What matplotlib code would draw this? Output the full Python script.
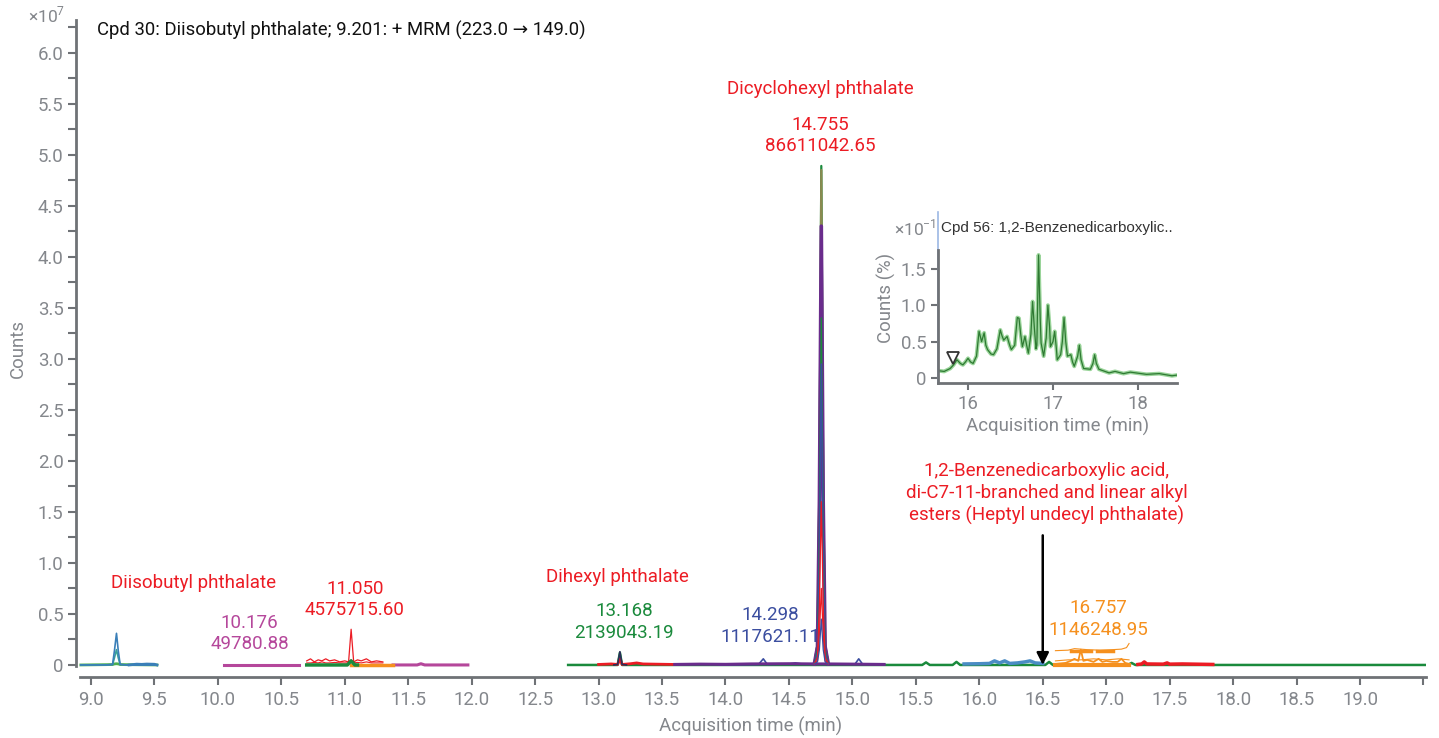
import matplotlib
matplotlib.use("Agg")
import matplotlib.pyplot as plt
from matplotlib.ticker import MultipleLocator, FixedLocator

plt.rcParams['font.family'] = ['Roboto', 'DejaVu Sans']
plt.rcParams['mathtext.fontset'] = 'custom'
plt.rcParams['mathtext.rm'] = 'Roboto'

# ---------------- data (counts in units of 1e7) ----------------
# Diisobutyl phthalate window
dib_t = [8.92, 9.12, 9.17, 9.185, 9.201, 9.215, 9.23, 9.28, 9.52]
dib_blue = [0.0, 0.0, 0.005, 0.14, 0.31, 0.14, 0.005, 0.0, 0.0]
dib_teal = [0.0, 0.0, 0.004, 0.07, 0.15, 0.07, 0.004, 0.0, 0.0]
dib_green = [0.0, 0.003, 0.004, 0.01, 0.012, 0.01, 0.004, 0.003, 0.0]
dib2_t = [9.30, 9.36, 9.40, 9.44, 9.50, 9.52]
dib2_v = [0.0, 0.008, 0.006, 0.009, 0.007, 0.0]

# 10.176 window
mag_t = [10.05, 10.30, 10.64]
mag_v = [0.0, 0.0, 0.0]

# 11.050 window
red11_t = [10.70, 10.73, 10.76, 10.79, 10.82, 10.85, 10.88, 10.92, 10.96, 11.00,
           11.03, 11.05, 11.07, 11.10, 11.13, 11.17, 11.21, 11.25, 11.30]
red11_v = [0.04, 0.06, 0.03, 0.05, 0.04, 0.06, 0.04, 0.05, 0.03, 0.04,
           0.03, 0.35, 0.03, 0.05, 0.04, 0.06, 0.03, 0.04, 0.03]
red11b_v = [0.02, 0.02, 0.025, 0.02, 0.03, 0.02, 0.02, 0.025, 0.02, 0.02,
            0.02, 0.05, 0.02, 0.025, 0.02, 0.03, 0.02, 0.02, 0.02]
green11_t = [10.70, 11.02, 11.05, 11.08, 11.10]
green11_v = [0.0, 0.0, 0.04, 0.0, 0.0]
orange11_t = [11.05, 11.38]
orange11_v = [0.0, 0.0]
mag11_t = [11.38, 11.57, 11.60, 11.63, 11.97]
mag11_v = [0.0, 0.0, 0.012, 0.0, 0.0]

# long baseline 12.76 - end
green_t = [12.76, 13.15, 13.168, 13.185, 15.55, 15.58, 15.61, 15.79, 15.82, 15.85,
           16.52, 16.55, 16.58, 17.17, 17.20, 17.23, 19.52]
green_v = [0.0, 0.0, 0.12, 0.0, 0.0, 0.025, 0.0, 0.0, 0.03, 0.0,
           0.0, 0.03, 0.0, 0.0, 0.02, 0.0, 0.0]
red13_t = [13.0, 13.10, 13.15, 13.168, 13.185, 13.25, 13.30, 13.35, 13.45, 13.60]
red13_v = [0.005, 0.01, 0.005, 0.06, 0.005, 0.012, 0.02, 0.01, 0.008, 0.005]
navy13_t = [13.12, 13.15, 13.168, 13.185, 13.22]
navy13_v = [0.0, 0.005, 0.13, 0.005, 0.0]

purple_t = [13.60, 13.80, 14.00, 14.20, 14.50, 14.70, 14.80, 15.00, 15.25]
purple_v = [0.005, 0.008, 0.006, 0.01, 0.012, 0.01, 0.01, 0.008, 0.005]
blue14_t = [13.95, 14.26, 14.298, 14.33, 14.50, 14.55, 14.60, 15.02, 15.05, 15.08, 15.25]
blue14_v = [0.0, 0.005, 0.06, 0.005, 0.01, 0.02, 0.01, 0.008, 0.06, 0.008, 0.008]

# Dicyclohexyl phthalate main peak (several transitions)
big_t = [14.70, 14.725, 14.74, 14.755, 14.77, 14.785, 14.81]
big_green = [0.01, 0.20, 1.80, 4.89, 1.80, 0.20, 0.01]
big_olive = [0.01, 0.20, 1.70, 4.85, 1.70, 0.20, 0.01]
big_purple = [0.01, 0.18, 1.60, 4.30, 1.60, 0.18, 0.01]
big_green2 = [0.01, 0.15, 1.30, 3.40, 1.30, 0.15, 0.01]
big_blue = [0.01, 0.12, 1.10, 2.95, 1.10, 0.12, 0.01]
big_red = [0.01, 0.08, 0.60, 1.60, 0.60, 0.08, 0.01]
big_red2 = [0.01, 0.04, 0.30, 0.75, 0.30, 0.04, 0.01]
big_navy = [0.01, 0.03, 0.15, 0.45, 0.15, 0.03, 0.01]

# 15.9 - 16.5 steel blue
steel_t = [15.88, 16.00, 16.08, 16.12, 16.16, 16.20, 16.24, 16.30, 16.36, 16.40, 16.44, 16.50]
steel_v = [0.01, 0.012, 0.015, 0.04, 0.02, 0.04, 0.015, 0.02, 0.03, 0.04, 0.02, 0.015]

# heptyl undecyl phthalate (orange)
orb_t = [16.60, 16.75, 16.90, 17.05, 17.18]
orb_v = [0.0, 0.0, 0.0, 0.0, 0.0]
orp_t = [16.60, 16.68, 16.72, 16.75, 16.78, 16.80, 16.82, 16.85, 16.90, 16.94,
         16.97, 17.00, 17.05, 17.09, 17.12, 17.15, 17.18]
orp_v = [0.01, 0.02, 0.04, 0.06, 0.04, 0.15, 0.04, 0.05, 0.03, 0.06,
         0.03, 0.04, 0.03, 0.03, 0.06, 0.02, 0.01]
orm_t = [16.60, 16.70, 16.80, 16.90, 17.00, 17.10, 17.18]
orm_v = [0.04, 0.05, 0.05, 0.06, 0.05, 0.06, 0.05]
ort_t = [16.60, 16.70, 16.75, 16.85, 16.95, 17.05, 17.12, 17.16, 17.18]
ort_v = [0.14, 0.145, 0.16, 0.15, 0.145, 0.15, 0.155, 0.17, 0.21]
ord1_t = [16.72, 16.88]
ord2_t = [16.93, 17.05]
ord_v = [0.14, 0.14]

# red 17.25 - 17.84
red17_t = [17.25, 17.28, 17.30, 17.32, 17.45, 17.48, 17.50, 17.60, 17.84]
red17_v = [0.005, 0.01, 0.03, 0.01, 0.008, 0.02, 0.008, 0.01, 0.005]

# inset (Counts %, x10^-1)
ins_t = [15.65, 15.72, 15.79, 15.83, 15.87, 15.91, 15.94, 15.97, 16.00, 16.03, 16.06,
         16.10, 16.13, 16.16, 16.19, 16.21, 16.23, 16.27, 16.30, 16.34, 16.38, 16.40,
         16.42, 16.46, 16.49, 16.51, 16.55, 16.58, 16.60, 16.62, 16.64, 16.67, 16.69,
         16.71, 16.74, 16.76, 16.78, 16.80, 16.81, 16.83, 16.85, 16.86, 16.89, 16.92,
         16.94, 16.96, 16.97, 17.00, 17.02, 17.04, 17.05, 17.09, 17.11, 17.13, 17.15,
         17.17, 17.21, 17.23, 17.25, 17.29, 17.31, 17.33, 17.36, 17.44, 17.47, 17.49,
         17.51, 17.54, 17.66, 17.73, 17.83, 17.91, 18.10, 18.25, 18.40, 18.46]
ins_v = [0.10, 0.09, 0.13, 0.18, 0.25, 0.20, 0.18, 0.22, 0.27, 0.22, 0.20,
         0.30, 0.64, 0.50, 0.62, 0.45, 0.39, 0.33, 0.32, 0.40, 0.66, 0.58,
         0.52, 0.57, 0.45, 0.39, 0.45, 0.83, 0.82, 0.60, 0.43, 0.57, 0.45,
         0.34, 0.60, 1.05, 0.70, 0.40, 0.45, 1.69, 0.80, 0.48, 0.30, 0.55,
         1.00, 0.70, 0.43, 0.50, 0.64, 0.40, 0.25, 0.32, 0.50, 0.83, 0.50,
         0.30, 0.32, 0.22, 0.16, 0.30, 0.45, 0.25, 0.13, 0.12, 0.20, 0.32,
         0.20, 0.12, 0.07, 0.09, 0.06, 0.08, 0.05, 0.06, 0.03, 0.04]
ins_marker_t = [15.82]
ins_marker_v = [0.27]

x_ticks = [9.0, 9.5, 10.0, 10.5, 11.0, 11.5, 12.0, 12.5, 13.0, 13.5, 14.0, 14.5,
           15.0, 15.5, 16.0, 16.5, 17.0, 17.5, 18.0, 18.5, 19.0]
y_ticks = [0, 0.5, 1.0, 1.5, 2.0, 2.5, 3.0, 3.5, 4.0, 4.5, 5.0, 5.5, 6.0]

# ---------------- colors ----------------
RED = '#ec1c24'
MAG = '#b5479b'
GRN = '#1a8a3c'
BLU = '#3b4ea0'
ORG = '#f5901e'
PUR = '#6a2c8c'
OLV = '#8a8a50'
TEAL = '#3aa39a'
SKY = '#3a7fb8'
STEEL = '#4a8cc4'
GRAY = '#84878c'
SPINE = '#6f7276'

fig = plt.figure(figsize=(14.39, 7.38), dpi=100)
ax = fig.add_axes([76/1439, 61/738, 1350/1439, 657/738])

lw = 1.2
# 9.2 window
ax.plot(dib_t, dib_green, color='#4caf50', lw=2)
ax.plot(dib_t, dib_teal, color=TEAL, lw=lw)
ax.plot(dib_t, dib_blue, color=SKY, lw=lw)
ax.plot(dib2_t, dib2_v, color=SKY, lw=2)
# 10.176
ax.plot(mag_t, mag_v, color=MAG, lw=2.2)
# 11.05
ax.plot(red11_t, red11b_v, color=RED, lw=0.8)
ax.plot(red11_t, red11_v, color=RED, lw=0.9)
ax.plot(mag11_t, mag11_v, color=MAG, lw=2.2)
ax.plot(orange11_t, orange11_v, color=ORG, lw=2.5)
ax.plot(green11_t, green11_v, color=GRN, lw=2.5)
# long baseline
ax.plot(green_t, green_v, color=GRN, lw=1.8)
ax.plot(red13_t, red13_v, color=RED, lw=2)
ax.plot(navy13_t, navy13_v, color='#2a2f5a', lw=lw)
ax.plot(steel_t, steel_v, color=STEEL, lw=2.5)
ax.plot(red17_t, red17_v, color=RED, lw=2.5)
ax.plot(blue14_t, blue14_v, color=BLU, lw=lw)
ax.plot(purple_t, purple_v, color=PUR, lw=2.2)
# orange group
ax.plot(orb_t, orb_v, color=ORG, lw=3)
ax.plot(orm_t, orm_v, color=ORG, lw=0.8)
ax.plot(orp_t, orp_v, color=ORG, lw=1.3)
ax.plot(ort_t, ort_v, color=ORG, lw=0.8)
ax.plot(ord1_t, ord_v, color=ORG, lw=2.5)
ax.plot(ord2_t, ord_v, color=ORG, lw=2.5)
# main peak
ax.plot(big_t, big_green, color=GRN, lw=1.6)
ax.plot(big_t, big_olive, color=OLV, lw=1.6)
ax.plot(big_t, big_purple, color=PUR, lw=2.6)
ax.plot(big_t, big_green2, color=GRN, lw=1.0)
ax.plot(big_t, big_blue, color=BLU, lw=1.0)
ax.plot(big_t, big_red, color=RED, lw=0.9)
ax.plot(big_t, big_red2, color=RED, lw=0.9)
ax.plot(big_t, big_navy, color=BLU, lw=0.9)

ax.set_xlim(8.882, 19.52)
ax.set_ylim(-0.118, 6.32)
for s in ['top', 'right']:
    ax.spines[s].set_visible(False)
for s in ['left', 'bottom']:
    ax.spines[s].set_color(SPINE)
    ax.spines[s].set_linewidth(2)
ax.spines['left'].set_bounds(-0.01, 6.32)
ax.spines['bottom'].set_bounds(8.913, 19.52)

ax.xaxis.set_major_locator(FixedLocator(x_ticks + [19.5]))
ax.set_xticklabels([f'{v:.1f}' for v in x_ticks] + [''])
ax.yaxis.set_major_locator(FixedLocator(y_ticks))
ax.set_yticklabels(['0' if v == 0 else f'{v:.1f}' for v in y_ticks])
ax.yaxis.set_minor_locator(MultipleLocator(0.25))
ax.tick_params(axis='both', which='both', colors=SPINE, labelcolor=GRAY,
               labelsize=13.4, width=1.5)
ax.tick_params(axis='y', which='both', length=6, pad=3)
ax.tick_params(axis='x', which='major', length=6, pad=4)

ax.set_xlabel('Acquisition time (min)', color=GRAY, fontsize=13.4, labelpad=6)
ax.set_ylabel('Counts', color=GRAY, fontsize=13.4, labelpad=8)

fig.text(47/1439, 1 - 15/738, r'$\times$10$^{7}$', color=GRAY, fontsize=12.5,
         ha='center', va='center')
fig.text(97/1439, 1 - 30/738, 'Cpd 30: Diisobutyl phthalate; 9.201: + MRM (223.0 \u2192 149.0)',
         color='#111111', fontsize=13.3, ha='left', va='center')

fs = 13.5
ax.text(9.81, 0.80, 'Diisobutyl phthalate', color=RED, fontsize=fs, ha='center', va='center')
ax.text(10.25, 0.31, '10.176\n49780.88', color=MAG, fontsize=fs, ha='center', va='center', linespacing=1.25)
ax.text(11.08, 0.64, '11.050\n4575715.60', color=RED, fontsize=fs, ha='center', va='center', linespacing=1.25)
ax.text(13.15, 0.86, 'Dihexyl phthalate', color=RED, fontsize=fs, ha='center', va='center')
ax.text(13.20, 0.42, '13.168\n2139043.19', color=GRN, fontsize=fs, ha='center', va='center', linespacing=1.25)
ax.text(14.35, 0.38, '14.298\n1117621.11', color=BLU, fontsize=fs, ha='center', va='center', linespacing=1.25)
ax.text(14.745, 5.64, 'Dicyclohexyl phthalate', color=RED, fontsize=fs, ha='center', va='center')
ax.text(14.745, 5.19, '14.755\n86611042.65', color=RED, fontsize=fs, ha='center', va='center', linespacing=1.25)
ax.text(16.53, 1.68, '1,2-Benzenedicarboxylic acid,\ndi-C7-11-branched and linear alkyl\nesters (Heptyl undecyl phthalate)',
        color=RED, fontsize=fs, ha='center', va='center', linespacing=1.25)
ax.text(16.94, 0.45, '16.757\n1146248.95', color=ORG, fontsize=fs, ha='center', va='center', linespacing=1.25)
ax.annotate('', xy=(16.5, 0.0), xytext=(16.5, 1.27),
            arrowprops=dict(arrowstyle='-|>', color='black', lw=1.8, mutation_scale=18,
                            shrinkA=0, shrinkB=0))

# ---------------- inset ----------------
ia = fig.add_axes([938/1439, 1 - 383/738, 239/1439, 171/738])
ia.patch.set_alpha(0)
ia.plot(ins_t, ins_v, color='#8fd08f', lw=2.8, alpha=0.9)
ia.plot(ins_t, ins_v, color='#2e7a32', lw=0.9)
ia.plot(ins_marker_t, ins_marker_v, marker='v', mfc='white', mec='#333333', ms=8, mew=1.3, ls='none')
ia.set_xlim(15.647, 18.459)
ia.set_ylim(-0.069, 2.28)
for s in ['top', 'right']:
    ia.spines[s].set_visible(False)
for s in ['left', 'bottom']:
    ia.spines[s].set_color(SPINE)
    ia.spines[s].set_linewidth(2)
ia.plot([0, 0], [0, 1], transform=ia.transAxes, color='#9cb8e4', lw=1.2, clip_on=False)
ia.spines['left'].set_bounds(-0.069, 1.76)
ia.set_xticks([16, 17, 18])
ia.set_xticklabels(['16', '17', '18'])
ia.set_yticks([0, 0.5, 1.0, 1.5])
ia.set_yticklabels(['0', '0.5', '1.0', '1.5'])
ia.tick_params(axis='both', colors=SPINE, labelcolor=GRAY, labelsize=13.4, width=1.5, length=5)
ia.set_xlabel('Acquisition time (min)', color=GRAY, fontsize=13.4, labelpad=3)
ia.set_ylabel('Counts (%)', color=GRAY, fontsize=13.4, labelpad=3)
fig.text(936/1439, 1 - 228/738, r'$\times$10$^{-1}$', color=GRAY, fontsize=12.5, ha='right', va='center')
fig.text(941/1439, 1 - 228/738, 'Cpd 56: 1,2-Benzenedicarboxylic..', color='#333333',
         fontsize=11, ha='left', va='center', family=['Liberation Sans', 'DejaVu Sans'])

fig.savefig('out.png', dpi=100)
